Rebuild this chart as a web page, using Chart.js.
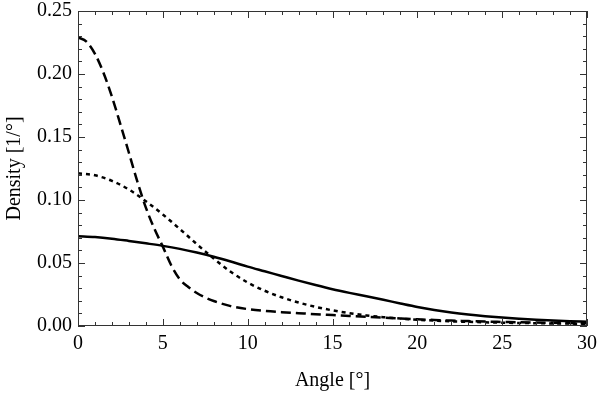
<!DOCTYPE html>
<html lang="en">
<head>
    <meta charset="UTF-8">
    <title>Density vs Angle</title>
    <script src="https://cdn.jsdelivr.net/npm/chart.js"></script>
    <style>
        html, body {
            margin: 0;
            padding: 0;
            background: #fff;
        }
        .wrap {
            width: 600px;
            height: 393px;
        }
    </style>
</head>
<body>

<div class="wrap">
    <canvas id="densityChart" width="600" height="393"></canvas>
</div>

<script>
// angles (deg) for the solid and dotted curves
const angles = [0, 1, 2, 3, 4, 5, 6, 7, 8, 9, 10, 11, 12, 13, 14, 15,
                16, 17, 18, 19, 20, 21, 22, 23, 24, 25, 26, 27, 28, 29, 30];
const solidDensity = [0.0712, 0.0706, 0.0693, 0.0675, 0.0656, 0.0636, 0.0612, 0.0583, 0.0550, 0.0512, 0.0471,
                      0.0434, 0.0397, 0.0360, 0.0325, 0.0292, 0.0263, 0.0236, 0.0208, 0.0179, 0.0151,
                      0.0127, 0.0107, 0.0091, 0.0078, 0.0067, 0.0058, 0.0050, 0.0044, 0.0038, 0.0034];
const dottedDensity = [0.1212, 0.1196, 0.1152, 0.1083, 0.0990, 0.0885, 0.0770, 0.0650, 0.0535, 0.0430, 0.0345,
                       0.0280, 0.0228, 0.0186, 0.0152, 0.0124, 0.0102, 0.0084, 0.0070, 0.0059, 0.0050,
                       0.0043, 0.0037, 0.0033, 0.0029, 0.0026, 0.0024, 0.0022, 0.0020, 0.0019, 0.0018];

// the dashed curve is steep near zero, so it is read at half degrees there
const dashedAngles = [0, 0.5, 1, 1.5, 2, 2.5, 3, 3.5, 4, 4.5, 5, 5.5, 6, 6.5, 7, 7.5, 8,
                      9, 10, 11, 12, 13, 14, 15, 16, 17, 18, 19, 20, 21, 22, 23, 24, 25, 26, 27, 28, 29, 30];
const dashedDensity = [0.2290, 0.2257, 0.2160, 0.2010, 0.1820, 0.1600, 0.1375, 0.1145, 0.0940, 0.0772, 0.0630,
                       0.0480, 0.0370, 0.0310, 0.0262, 0.0226, 0.0198,
                       0.0158, 0.0134, 0.0120, 0.0110, 0.0102, 0.0094, 0.0087, 0.0080, 0.0073, 0.0066,
                       0.0059, 0.0053, 0.0048, 0.0043, 0.0039, 0.0035, 0.0032, 0.0029, 0.0027, 0.0025,
                       0.0023, 0.0021];

const xTicks = [0, 5, 10, 15, 20, 25, 30];
const yTicks = [0.00, 0.05, 0.10, 0.15, 0.20, 0.25];

const serif = "'Liberation Serif', 'DejaVu Serif', serif";

function toPoints(xs, ys) {
    return xs.map((x, i) => ({ x: x, y: ys[i] }));
}

// frame plus inward major/minor ticks on all four sides
const frameTicks = {
    id: 'frameTicks',
    afterDraw(chart) {
        const ctx = chart.ctx;
        const area = chart.chartArea;
        const xs = chart.scales.x;
        const ys = chart.scales.y;
        ctx.save();
        ctx.strokeStyle = '#333';
        ctx.lineWidth = 1;
        ctx.strokeRect(area.left + 0.5, area.top + 0.5, area.right - area.left - 1, area.bottom - area.top - 1);
        ctx.beginPath();
        for (let i = 0; i <= 30; i++) {
            const px = Math.round(xs.getPixelForValue(i)) + 0.5;
            const len = (i % 5 === 0) ? 7 : 4;
            ctx.moveTo(px, area.bottom);
            ctx.lineTo(px, area.bottom - len);
            ctx.moveTo(px, area.top);
            ctx.lineTo(px, area.top + len);
        }
        for (let i = 0; i <= 25; i++) {
            const py = Math.round(ys.getPixelForValue(i / 100)) + 0.5;
            const len = (i % 5 === 0) ? 7 : 4;
            ctx.moveTo(area.left, py);
            ctx.lineTo(area.left + len, py);
            ctx.moveTo(area.right, py);
            ctx.lineTo(area.right - len, py);
        }
        ctx.stroke();
        ctx.restore();
    }
};

const ctx = document.getElementById('densityChart').getContext('2d');
new Chart(ctx, {
    type: 'line',
    data: {
        datasets: [
            {
                label: 'solid',
                data: toPoints(angles, solidDensity),
                borderColor: '#000',
                borderWidth: 2.5,
                pointRadius: 0,
                cubicInterpolationMode: 'monotone'
            },
            {
                label: 'dotted',
                data: toPoints(angles, dottedDensity),
                borderColor: '#000',
                borderWidth: 2.5,
                borderDash: [4, 4],
                pointRadius: 0,
                cubicInterpolationMode: 'monotone'
            },
            {
                label: 'dashed',
                data: toPoints(dashedAngles, dashedDensity),
                borderColor: '#000',
                borderWidth: 2.5,
                borderDash: [10, 5],
                pointRadius: 0,
                cubicInterpolationMode: 'monotone'
            }
        ]
    },
    options: {
        responsive: false,
        animation: false,
        layout: {
            padding: { top: 11, right: 13, bottom: 0, left: 0 }
        },
        plugins: {
            legend: { display: false },
            tooltip: { enabled: false }
        },
        scales: {
            x: {
                type: 'linear',
                min: 0,
                max: 30,
                afterFit(scale) {
                    scale.height = 67;
                    scale.paddingLeft = 0;
                    scale.paddingRight = 0;
                },
                afterBuildTicks(scale) { scale.ticks = xTicks.map(v => ({ value: v })); },
                grid: { display: false, drawTicks: false },
                border: { display: false },
                ticks: {
                    color: '#000',
                    padding: 6,
                    maxRotation: 0,
                    autoSkip: false,
                    font: { family: serif, size: 20 }
                },
                title: {
                    display: true,
                    text: 'Angle [°]',
                    color: '#000',
                    font: { family: serif, size: 20 },
                    padding: { top: 0, bottom: 0 }
                }
            },
            y: {
                type: 'linear',
                min: 0,
                max: 0.25,
                afterFit(scale) {
                    scale.width = 78;
                    scale.paddingTop = 0;
                    scale.paddingBottom = 0;
                },
                afterBuildTicks(scale) { scale.ticks = yTicks.map(v => ({ value: v })); },
                grid: { display: false, drawTicks: false },
                border: { display: false },
                ticks: {
                    color: '#000',
                    padding: 6,
                    autoSkip: false,
                    font: { family: serif, size: 20 },
                    callback: (v) => Number(v).toFixed(2)
                },
                title: {
                    display: true,
                    text: 'Density [1/°]',
                    color: '#000',
                    font: { family: serif, size: 20 },
                    padding: { top: 3, bottom: 0 }
                }
            }
        }
    },
    plugins: [frameTicks]
});
</script>
</body>
</html>
